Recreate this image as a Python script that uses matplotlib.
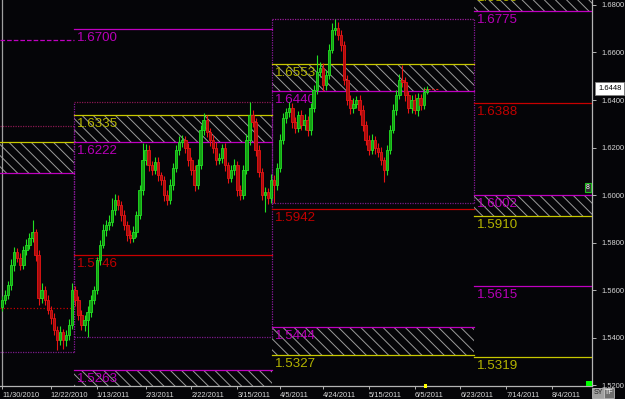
import matplotlib
matplotlib.use("Agg")
import matplotlib.pyplot as plt
from matplotlib.patches import Rectangle
import numpy as np

# ---------------- data ----------------
first_open = 1.5530
closes = [
    1.5558, 1.5579, 1.5621, 1.5705, 1.5760, 1.5735, 1.5705, 1.5769, 1.5790, 1.5819,
    1.5844, 1.5748, 1.5567, 1.5600, 1.5558, 1.5516, 1.5482, 1.5432, 1.5390, 1.5423,
    1.5390, 1.5411, 1.5453, 1.5600, 1.5558, 1.5495, 1.5453, 1.5474, 1.5508, 1.5558,
    1.5600, 1.5726, 1.5790, 1.5853, 1.5874, 1.5886, 1.5937, 1.5979, 1.5958, 1.5916,
    1.5874, 1.5832, 1.5819, 1.5844, 1.5916, 1.6021, 1.6147, 1.6190, 1.6126, 1.6105,
    1.6139, 1.6084, 1.6063, 1.6000, 1.5979, 1.6042, 1.6114, 1.6190, 1.6223, 1.6232,
    1.6198, 1.6147, 1.6105, 1.6042, 1.6126, 1.6274, 1.6316, 1.6265, 1.6232, 1.6198,
    1.6147, 1.6156, 1.6198, 1.6126, 1.6072, 1.6105, 1.6126, 1.6021, 1.6000, 1.6105,
    1.6232, 1.6337, 1.6307, 1.6190, 1.6097, 1.6000, 1.6013, 1.5987, 1.6063, 1.6042,
    1.6114, 1.6232, 1.6324, 1.6350, 1.6366, 1.6307, 1.6282, 1.6337, 1.6295, 1.6316,
    1.6274, 1.6366, 1.6442, 1.6518, 1.6535, 1.6463, 1.6505, 1.6611, 1.6695, 1.6703,
    1.6674, 1.6632, 1.6484, 1.6400, 1.6366, 1.6383, 1.6400, 1.6358, 1.6295, 1.6232,
    1.6190, 1.6232, 1.6198, 1.6181, 1.6147, 1.6105, 1.6190, 1.6274, 1.6358, 1.6421,
    1.6484, 1.6476, 1.6421, 1.6366, 1.6400, 1.6358, 1.6408, 1.6379, 1.6434, 1.6448,
]
upper_wick_pips = [
    15, 20, 18, 25, 20, 15, 22, 18, 25, 20,
    51, 15, 20, 30, 18, 22, 15, 20, 15, 25,
    15, 20, 25, 30, 18, 15, 20, 22, 25, 20,
    18, 15, 20, 25, 22, 30, 50, 25, 20, 18,
    22, 15, 20, 25, 18, 20, 72, 25, 20, 18,
    22, 20, 15, 18, 20, 25, 22, 20, 25, 20,
    18, 22, 15, 20, 25, 20, 29, 22, 18, 20,
    25, 20, 18, 22, 15, 20, 25, 18, 20, 22,
    25, 55, 20, 18, 22, 15, 20, 18, 25, 20,
    22, 25, 20, 18, 25, 20, 22, 18, 20, 25,
    18, 22, 20, 72, 25, 20, 22, 25, 30, 38,
    25, 20, 18, 22, 20, 25, 18, 20, 22, 15,
    20, 25, 18, 22, 20, 15, 22, 20, 25, 20,
    25, 63, 20, 18, 22, 25, 20, 18, 22, 12,
]
lower_wick_pips = [
    20, 15, 18, 20, 25, 18, 22, 15, 20, 18,
    15, 25, 30, 20, 22, 18, 25, 20, 43, 22,
    40, 25, 20, 15, 25, 22, 20, 25, 72, 20,
    15, 18, 20, 15, 25, 20, 18, 22, 20, 25,
    20, 25, 22, 18, 20, 15, 20, 22, 25, 20,
    18, 25, 22, 25, 20, 15, 20, 18, 22, 20,
    20, 25, 22, 25, 18, 15, 20, 22, 25, 20,
    22, 18, 20, 25, 22, 18, 20, 25, 22, 15,
    18, 20, 22, 25, 20, 22, 71, 25, 20, 76,
    20, 15, 18, 20, 22, 25, 20, 18, 22, 20,
    25, 20, 18, 15, 22, 25, 20, 18, 15, 20,
    22, 25, 20, 22, 25, 20, 18, 22, 25, 20,
    22, 18, 25, 20, 22, 50, 20, 18, 15, 20,
    18, 22, 25, 20, 22, 18, 25, 20, 18, 10,
]

date_tick_pos = [0, 16, 31, 47, 62, 77, 91, 105, 120, 135, 150, 165, 180]
date_tick_labels = ["11/30/2010", "12/22/2010", "1/13/2011", "2/3/2011", "2/22/2011",
                    "3/15/2011", "4/5/2011", "4/24/2011", "5/15/2011", "6/5/2011",
                    "6/23/2011", "7/14/2011", "8/4/2011"]
price_ticks = [1.52, 1.54, 1.56, 1.58, 1.60, 1.62, 1.64, 1.66, 1.68]
last_price = 1.6448

# quarter segment boundaries (bar index)
seg_edges = [-0.65, 23.5, 88.5, 154.5, 193.06]

# pivot level lines
level_price = [1.6653, 1.6223, 1.6093, 1.5524,
               1.6700, 1.6335, 1.6222, 1.5746, 1.5263,
               1.6553, 1.6440, 1.5942, 1.5444, 1.5327,
               1.6866, 1.6775, 1.6388, 1.6002, 1.5910, 1.5615, 1.5319]
level_seg = [0, 0, 0, 0,
             1, 1, 1, 1, 1,
             2, 2, 2, 2, 2,
             3, 3, 3, 3, 3, 3, 3]
level_kind = ['m', 'y', 'm', 'r',
              'm', 'y', 'm', 'r', 'm',
              'y', 'm', 'r', 'm', 'y',
              'y', 'm', 'r', 'm', 'y', 'm', 'y']
level_style = ['--', '-', '-', ':',
               '-', '-', '-', '-', '-',
               '-', '-', '-', '-', '-',
               '-', '-', '-', '-', '-', '-', '-']

# hatched zones (segment, top, bottom)
zone_seg = [0, 1, 1, 2, 2, 3, 3]
zone_top = [1.6223, 1.6335, 1.5263, 1.6553, 1.5444, 1.6866, 1.6002]
zone_bot = [1.6093, 1.6222, 1.5150, 1.6440, 1.5327, 1.6775, 1.5910]

# quarter high/low range boxes
box_seg = [0, 1, 2]
box_high = [1.6291, 1.6392, 1.6741]
box_low = [1.5339, 1.5402, 1.5966]

# ---------------- style ----------------
BG = '#050508'
COL = {'m': '#c000c0', 'y': '#c8c800', 'r': '#c80000'}
LABCOL = {'m': '#b800b8', 'y': '#b4b400', 'r': '#c00000'}
plt.rcParams['hatch.linewidth'] = 0.7
plt.rcParams['font.family'] = ['Liberation Sans', 'DejaVu Sans']

fig = plt.figure(figsize=(6.25, 3.99), dpi=100, facecolor=BG)
ax = fig.add_axes([0, 13/399, 592/625, 386/399], facecolor=BG)
ax.set_xlim(seg_edges[0], seg_edges[-1])
ax.set_ylim(1.5196, 1.6821)

# hatched zones
for s, t, b in zip(zone_seg, zone_top, zone_bot):
    r = Rectangle((seg_edges[s], b), seg_edges[s+1]-seg_edges[s], t-b,
                  facecolor='none', edgecolor='#9c9c9c', linewidth=0,
                  hatch='\\\\\\', zorder=1)
    ax.add_patch(r)

# range boxes
box_top_col = '#8a1850'
box_bot_col = '#7a1a8a'
for s, hi, lo in zip(box_seg, box_high, box_low):
    x0, x1 = seg_edges[s], seg_edges[s+1]
    ax.plot([x0, x1], [hi, hi], color=box_top_col if s < 2 else '#9a1a9a', lw=0.9, ls=(0, (1, 1)), zorder=2)
    ax.plot([x0, x1], [lo, lo], color=box_bot_col, lw=0.9, ls=(0, (1, 1)), zorder=2)
    if s > 0:
        ax.plot([x0, x0], [lo, hi], color='#8a1a9a', lw=0.9, ls=(0, (1, 1)), zorder=2)
    ax.plot([x1, x1], [lo, hi], color='#8a1a9a', lw=0.9, ls=(0, (1, 1)), zorder=2)

# grey period separator at first bar
ax.axvline(0, color='#a0a0a0', lw=0.9, zorder=2)

# level lines and labels
for p, s, k, st in zip(level_price, level_seg, level_kind, level_style):
    x0, x1 = seg_edges[s], seg_edges[s+1]
    ax.plot([x0, x1], [p, p], color=COL[k], lw=0.9, ls=st, zorder=3)
    if s > 0:
        ax.annotate(f"{p:.4f}", xy=(x0, p), xytext=(3, -3), textcoords='offset pixels',
                    ha='left', va='top', color=LABCOL[k], fontsize=9.6,
                    annotation_clip=False, clip_on=True, zorder=4)

# candlesticks
opens = [first_open] + closes[:-1]
idx = np.arange(len(closes))
for i, o, c, uw, lw_ in zip(idx, opens, closes, upper_wick_pips, lower_wick_pips):
    up = c >= o
    edge = '#22e022' if up else '#e81414'
    face = '#14a014' if up else '#a80c0c'
    hi = max(o, c) + uw * 1e-4
    lo = min(o, c) - lw_ * 1e-4
    ax.plot([i, i], [lo, hi], color=edge, lw=0.8, zorder=5, solid_capstyle='butt')
    h = max(abs(c - o), 0.00025)
    ax.add_patch(Rectangle((i - 0.4, min(o, c)), 0.8, h, facecolor=face,
                           edgecolor=edge, linewidth=0.6, zorder=6))

# current price short dashed line
ax.plot([idx[-1] - 1, idx[-1] + 4], [last_price, last_price], color='#e02020', lw=0.8,
        ls=(0, (2, 1.5)), zorder=6)

# axes styling
for sp in ['top', 'left']:
    ax.spines[sp].set_visible(False)
for sp in ['right', 'bottom']:
    ax.spines[sp].set_color('#b4b4b4')
    ax.spines[sp].set_linewidth(0.9)

ax.yaxis.tick_right()
ax.set_yticks(price_ticks)
ax.set_yticklabels([f"{v:.4f}" for v in price_ticks])
ax.tick_params(axis='y', colors='#b4b4b4', labelcolor='#d8d8d8', labelsize=5.4,
               length=3, width=0.7, pad=4)
ax.set_xticks(date_tick_pos)
ax.set_xticklabels(date_tick_labels, ha='left')
ax.tick_params(axis='x', colors='#b4b4b4', labelcolor='#d8d8d8', labelsize=5.4,
               length=2.5, width=0.7, pad=1.5)

# current price box on axis
ax.annotate(f"{last_price:.4f}", xy=(1, last_price), xycoords=ax.get_yaxis_transform(),
            xytext=(6, 0), textcoords='offset pixels', ha='left', va='center',
            fontsize=5.4, color='black', annotation_clip=False,
            bbox=dict(boxstyle='square,pad=0.35', fc='white', ec='#808080', lw=0.6))

# small markers
ax.annotate("8", xy=(1, 1.6030), xycoords=ax.get_yaxis_transform(), xytext=(-4, 0),
            textcoords='offset pixels', ha='center', va='center', fontsize=5,
            color='white', annotation_clip=False,
            bbox=dict(boxstyle='square,pad=0.15', fc='#303030', ec='#20c020', lw=0.8))
fig.patches.append(Rectangle((586/625, 13/399), 6/625, 5/399, transform=fig.transFigure,
                             facecolor='#00ff00', edgecolor='none'))
fig.patches.append(Rectangle((424/625, 11/399), 3/625, 4/399, transform=fig.transFigure,
                             facecolor='#ffff00', edgecolor='none'))
fig.text(598/625, 6/399, "SY", fontsize=5, color='#202020', ha='center', va='center',
         bbox=dict(boxstyle='square,pad=0.15', fc='#a0a0a0', ec='#d0d0d0', lw=0.5))
fig.text(609/625, 6/399, "TF", fontsize=5, color='white', ha='center', va='center',
         bbox=dict(boxstyle='square,pad=0.15', fc='#707070', ec='#d0d0d0', lw=0.5))

fig.savefig("out.png", dpi=100, facecolor=BG)
